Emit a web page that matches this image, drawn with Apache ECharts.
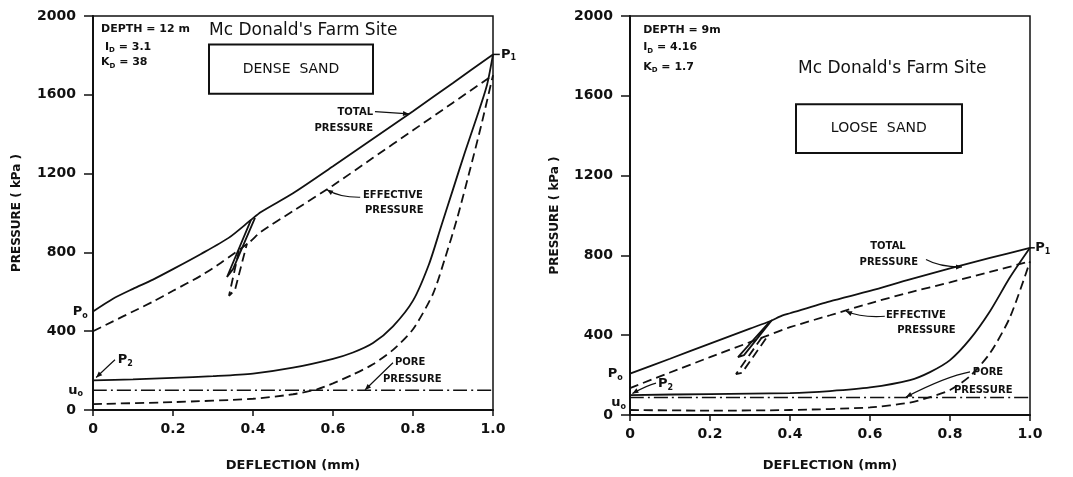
<!DOCTYPE html>
<html>
<head>
<meta charset="utf-8">
<script src="https://cdn.jsdelivr.net/npm/echarts@6/dist/echarts.min.js"></script>
<style>
  html, body { margin: 0; padding: 0; background: #fff; }
  #main { width: 1073px; height: 477px; }
</style>
</head>
<body>
<div id="main"></div>
<script>
// deflection (mm) vs pressure (kPa)

// left panel - dense sand
var denseTotal = [[0,500],[0.05,565],[0.1,615],[0.15,662],[0.2,715],[0.27,792],[0.34,875],[0.395,965],
  [0.42,1005],[0.5,1100],[0.6,1237],[0.7,1377],[0.8,1517],[0.9,1660],[1.0,1805]];
var denseTotalLoop = [[0.395,965],[0.335,675],[0.35,715],[0.405,975]];
var denseEffective = [[0,400],[0.05,450],[0.1,500],[0.15,550],[0.2,605],[0.27,682],[0.32,748],[0.39,850],
  [0.42,905],[0.5,1010],[0.6,1140],[0.7,1280],[0.8,1420],[0.9,1560],[1.0,1700]];
var denseEffectiveLoop = [[0.365,810],[0.34,580],[0.355,610],[0.385,845]];
var denseTotalBack = [[0,150],[0.1,155],[0.2,163],[0.3,172],[0.4,185],[0.5,215],[0.6,260],[0.65,292],[0.7,340],
  [0.75,425],[0.8,555],[0.84,740],[0.87,930],[0.9,1120],[0.93,1310],[0.96,1490],[0.985,1650],[1.0,1805]];
var denseEffectiveBack = [[0,30],[0.2,40],[0.4,57],[0.5,80],[0.56,105],[0.6,135],[0.65,180],[0.7,232],[0.75,305],
  [0.8,410],[0.85,590],[0.88,770],[0.91,970],[0.94,1200],[0.97,1440],[1.0,1700]];
var densePore = [[0,100],[1.0,100]];

// right panel - loose sand
var looseTotal = [[0,207],[0.1,282],[0.2,358],[0.3,433],[0.35,470],[0.38,498],[0.4,510],[0.5,570],
  [0.6,622],[0.7,680],[0.8,735],[0.9,787],[1.0,838]];
var looseTotalLoop = [[0.35,470],[0.27,290],[0.285,300],[0.355,476]];
var looseEffective = [[0,135],[0.1,213],[0.2,290],[0.3,365],[0.34,395],[0.4,440],[0.5,500],[0.6,560],
  [0.7,615],[0.8,665],[0.9,717],[1.0,770]];
var looseEffectiveLoop = [[0.33,390],[0.265,205],[0.28,212],[0.345,398]];
var looseTotalBack = [[0,100],[0.2,105],[0.4,110],[0.5,120],[0.6,138],[0.7,175],[0.75,215],[0.8,275],
  [0.85,380],[0.9,520],[0.95,690],[1.0,838]];
var looseEffectiveBack = [[0,25],[0.2,22],[0.4,25],[0.6,38],[0.7,62],[0.75,90],[0.8,125],[0.85,195],
  [0.9,310],[0.95,490],[1.0,770]];
var loosePore = [[0,88],[1.0,88]];

var pressureTicks = [0, 400, 800, 1200, 1600, 2000];
var deflectionTicks = [0, 0.2, 0.4, 0.6, 0.8, 1.0];

var ink = '#111';
var fontName = 'DejaVu Sans';

var chart = echarts.init(document.getElementById('main'));

function xAx(g) {
  return {
    type: 'value', gridIndex: g, min: 0, max: 1, interval: 0.2,
    name: 'DEFLECTION (mm)', nameLocation: 'middle', nameGap: g === 0 ? 49 : 44,
    nameTextStyle: { color: ink, fontFamily: fontName, fontWeight: 'bold', fontSize: 13 },
    axisLine: { lineStyle: { color: ink, width: 2 } },
    axisTick: { length: 6, lineStyle: { color: ink, width: 1.5 } },
    axisLabel: { color: ink, fontFamily: fontName, fontWeight: 'bold', fontSize: 14, margin: 12,
      formatter: function (v) { return v === 0 ? '0' : v.toFixed(1); } },
    splitLine: { show: false }
  };
}
function yAx(g) {
  return {
    type: 'value', gridIndex: g, min: 0, max: 2000, interval: 400,
    name: 'PRESSURE ( kPa )', nameLocation: 'middle', nameGap: g === 0 ? 70 : 69, nameRotate: 90,
    nameTextStyle: { color: ink, fontFamily: fontName, fontWeight: 'bold', fontSize: 12 },
    axisLine: { lineStyle: { color: ink, width: 2 } },
    axisTick: { length: 9, lineStyle: { color: ink, width: 1.5 } },
    axisLabel: { color: ink, fontFamily: fontName, fontWeight: 'bold', fontSize: 14, margin: 17,
      formatter: function (v) { return String(v); } },
    splitLine: { show: false }
  };
}
function curve(g, data, type, smooth) {
  var dash = type === 'dashed' ? [9, 5] : (type === 'dashdot' ? [14, 4, 2, 4] : 'solid');
  return {
    type: 'line', xAxisIndex: g, yAxisIndex: g, data: data,
    showSymbol: false, symbol: 'none', smooth: smooth === undefined ? 0.25 : smooth, silent: true,
    lineStyle: { color: ink, width: type === 'dashdot' ? 1.4 : 1.8, type: dash }
  };
}

var option = {
  backgroundColor: '#fff',
  animation: false,
  grid: [
    { left: 93, top: 16, width: 400, height: 402, show: true, borderColor: ink, borderWidth: 1.5 },
    { left: 630, top: 16, width: 400, height: 408, show: true, borderColor: ink, borderWidth: 1.5 }
  ],
  xAxis: [xAx(0), xAx(1)],
  yAxis: [yAx(0), yAx(1)],
  series: [
    curve(0, denseTotal, 'solid'),
    curve(0, denseTotalLoop, 'solid', false),
    curve(0, denseEffective, 'dashed'),
    curve(0, denseEffectiveLoop, 'dashed', false),
    curve(0, denseTotalBack, 'solid'),
    curve(0, denseEffectiveBack, 'dashed'),
    curve(0, densePore, 'dashdot'),
    curve(1, looseTotal, 'solid'),
    curve(1, looseTotalLoop, 'solid', false),
    curve(1, looseEffective, 'dashed'),
    curve(1, looseEffectiveLoop, 'dashed', false),
    curve(1, looseTotalBack, 'solid'),
    curve(1, looseEffectiveBack, 'dashed'),
    curve(1, loosePore, 'dashdot')
  ]
};
chart.setOption(option);

// annotations, placed in data units of each panel
function px(g, x, y) { return chart.convertToPixel({ gridIndex: g }, [x, y]); }

var rich = {
  n: { fontFamily: fontName, fontWeight: 'bold', fontSize: 11, fill: ink, color: ink },
  s: { fontFamily: fontName, fontWeight: 'bold', fontSize: 7, fill: ink, color: ink, padding: [7, 0, 0, 0] },
  P: { fontFamily: fontName, fontWeight: 'bold', fontSize: 13, color: ink, fill: ink },
  ps: { fontFamily: fontName, fontWeight: 'bold', fontSize: 8, color: ink, fill: ink, padding: [8, 0, 0, 0] }
};

function text(g, x, y, str, align, size, weight) {
  var p = px(g, x, y);
  return {
    type: 'text', x: p[0], y: p[1], silent: true,
    style: {
      text: str, fill: ink, align: align || 'left', verticalAlign: 'middle',
      font: (weight || 'bold') + ' ' + (size || 11) + 'px "' + fontName + '"', rich: rich
    }
  };
}
function box(g, x0, y0, x1, y1) {
  var a = px(g, x0, y0), b = px(g, x1, y1);
  return { type: 'rect', silent: true, shape: { x: a[0], y: a[1], width: b[0] - a[0], height: b[1] - a[1] },
    style: { fill: null, stroke: ink, lineWidth: 2 } };
}
function arrow(g, from, to, bend) {
  var a = px(g, from[0], from[1]), b = px(g, to[0], to[1]);
  var cx = (a[0] + b[0]) / 2 + (bend || 0), cy = (a[1] + b[1]) / 2 - (bend || 0);
  var ang = Math.atan2(b[1] - cy, b[0] - cx), L = 6, W = 2.5;
  var hx = b[0] - L * Math.cos(ang), hy = b[1] - L * Math.sin(ang);
  return [
    { type: 'bezierCurve', silent: true, shape: { x1: a[0], y1: a[1], x2: b[0], y2: b[1], cpx1: cx, cpy1: cy },
      style: { stroke: ink, lineWidth: 1.2, fill: null } },
    { type: 'polygon', silent: true, shape: { points: [b,
        [hx - W * Math.sin(ang), hy + W * Math.cos(ang)],
        [hx + W * Math.sin(ang), hy - W * Math.cos(ang)]] },
      style: { fill: ink } }
  ];
}
function tick(g, from, to) {
  var a = px(g, from[0], from[1]), b = px(g, to[0], to[1]);
  return { type: 'line', silent: true, shape: { x1: a[0], y1: a[1], x2: b[0], y2: b[1] },
    style: { stroke: ink, lineWidth: 1.5 } };
}

var g = [];
// dense sand
g.push(text(0, 0.02, 1935, 'DEPTH = 12 m'));
g.push(text(0, 0.03, 1843, '{n|I}{s|D}{n| = 3.1}'));
g.push(text(0, 0.02, 1765, '{n|K}{s|D}{n| = 38}'));
g.push(text(0, 0.29, 1925, "Mc Donald's Farm Site", 'left', 17, 'normal'));
g.push(box(0, 0.29, 1855, 0.70, 1605));
g.push(text(0, 0.495, 1728, 'DENSE  SAND', 'center', 14, 'normal'));
g.push(text(0, 0.70, 1512, 'TOTAL', 'right', 10));
g.push(text(0, 0.70, 1430, 'PRESSURE', 'right', 10));
g = g.concat(arrow(0, [0.705, 1515], [0.79, 1503], 0));
g.push(text(0, 0.675, 1090, 'EFFECTIVE', 'left', 10));
g.push(text(0, 0.68, 1015, 'PRESSURE', 'left', 10));
g = g.concat(arrow(0, [0.668, 1080], [0.585, 1118], -4));
g.push(text(0, 0.755, 240, 'PORE', 'left', 10));
g.push(text(0, 0.725, 155, 'PRESSURE', 'left', 10));
g = g.concat(arrow(0, [0.75, 240], [0.68, 102], 6));
g.push(tick(0, [1.0, 1805], [1.017, 1805]));
g.push(text(0, 1.02, 1805, '{P|P}{ps|1}'));
g.push(text(0, -0.013, 500, '{P|P}{ps|o}', 'right'));
g.push(text(0, 0.062, 255, '{P|P}{ps|2}'));
g = g.concat(arrow(0, [0.055, 255], [0.008, 165], 4));
g.push(text(0, -0.025, 100, '{P|u}{ps|o}', 'right'));
// loose sand
g.push(text(1, 0.033, 1930, 'DEPTH = 9m'));
g.push(text(1, 0.033, 1842, '{n|I}{s|D}{n| = 4.16}'));
g.push(text(1, 0.033, 1744, '{n|K}{s|D}{n| = 1.7}'));
g.push(text(1, 0.42, 1735, "Mc Donald's Farm Site", 'left', 17, 'normal'));
g.push(box(1, 0.415, 1558, 0.83, 1313));
g.push(text(1, 0.622, 1435, 'LOOSE  SAND', 'center', 14, 'normal'));
g.push(text(1, 0.645, 843, 'TOTAL', 'center', 10));
g.push(text(1, 0.647, 764, 'PRESSURE', 'center', 10));
g = g.concat(arrow(1, [0.74, 779], [0.83, 742], -4));
g.push(text(1, 0.64, 500, 'EFFECTIVE', 'left', 10));
g.push(text(1, 0.668, 426, 'PRESSURE', 'left', 10));
g = g.concat(arrow(1, [0.637, 495], [0.54, 520], -4));
g.push(text(1, 0.857, 216, 'PORE', 'left', 10));
g.push(text(1, 0.81, 122, 'PRESSURE', 'left', 10));
g = g.concat(arrow(1, [0.85, 216], [0.69, 90], 8));
g.push(tick(1, [1.0, 838], [1.012, 838]));
g.push(text(1, 1.013, 838, '{P|P}{ps|1}'));
g.push(text(1, -0.018, 205, '{P|P}{ps|o}', 'right'));
g.push(text(1, 0.07, 157, '{P|P}{ps|2}'));
g = g.concat(arrow(1, [0.065, 160], [0.006, 108], 3));
g.push(text(1, -0.01, 62, '{P|u}{ps|o}', 'right'));

chart.setOption({ graphic: g });
</script>
</body>
</html>
